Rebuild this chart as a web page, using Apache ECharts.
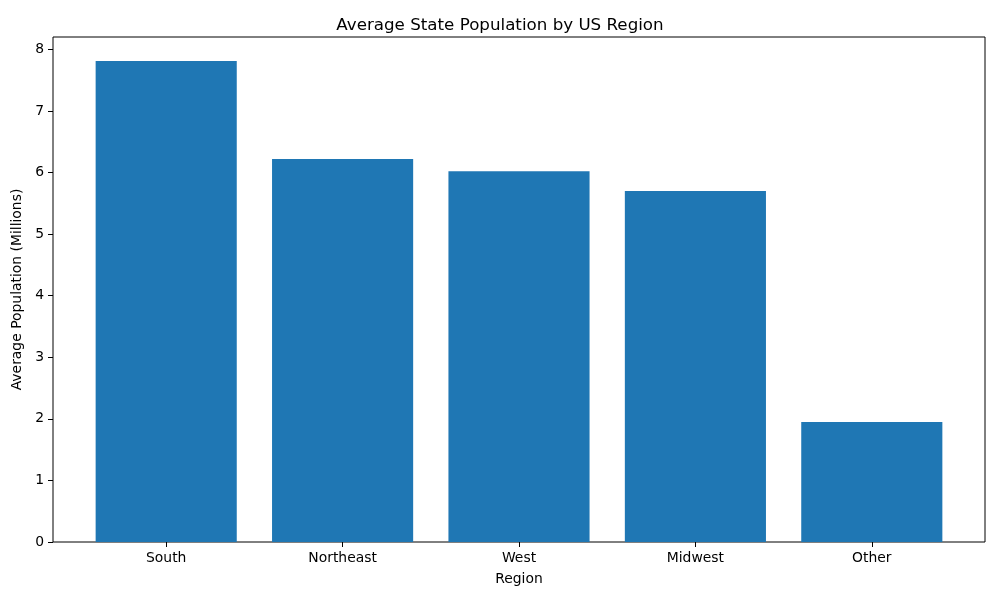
<!DOCTYPE html>
<html>
<head>
<meta charset="utf-8">
<script src="https://cdn.jsdelivr.net/npm/echarts@6/dist/echarts.min.js"></script>
<style>
    html, body { margin: 0; padding: 0; background: #fff; }
    #chart { width: 1000px; height: 600px; }
</style>
</head>
<body>
<div id="chart"></div>
<script>
let regions = ['South', 'Northeast', 'West', 'Midwest', 'Other'];
let avgPopulation = [7.81, 6.22, 6.02, 5.70, 1.95];
let yTicks = [0, 1, 2, 3, 4, 5, 6, 7, 8];

let font = 'DejaVu Sans';

let option = {
    animation: false,
    textStyle: { fontFamily: font },
    title: {
        text: 'Average State Population by US Region',
        left: 'center',
        top: 12,
        textStyle: {
            fontFamily: font,
            fontSize: 16.7,
            fontWeight: 'normal',
            color: '#000'
        }
    },
    grid: [
        // frame, same as the axes box
        { left: 53, right: 15, top: 37, bottom: 58, show: true, borderColor: '#000', borderWidth: 1, backgroundColor: 'transparent' },
        // bars, padded like matplotlib margins
        { left: 78, right: 40, top: 37, bottom: 58 }
    ],
    xAxis: [
        {
            gridIndex: 0,
            type: 'value',
            min: 0,
            max: 1,
            name: 'Region',
            nameLocation: 'middle',
            nameGap: 30,
            nameTextStyle: { fontFamily: font, fontSize: 13.9, color: '#000' },
            axisLine: { show: false },
            axisTick: { show: false },
            axisLabel: { show: false },
            splitLine: { show: false }
        },
        {
            gridIndex: 1,
            type: 'category',
            data: regions,
            axisLine: { show: false },
            axisTick: {
                show: true,
                alignWithLabel: true,
                length: 5,
                lineStyle: { color: '#000' }
            },
            axisLabel: {
                margin: 9,
                fontFamily: font,
                fontSize: 13.9,
                color: '#000'
            },
            splitLine: { show: false }
        }
    ],
    yAxis: [
        {
            gridIndex: 0,
            type: 'value',
            min: 0,
            max: 8.2,
            name: 'Average Population (Millions)',
            nameLocation: 'middle',
            nameGap: 28,
            nameTextStyle: { fontFamily: font, fontSize: 13.9, color: '#000' },
            axisLine: { show: false },
            axisTick: {
                show: true,
                length: 5,
                customValues: yTicks,
                lineStyle: { color: '#000' }
            },
            axisLabel: {
                margin: 9,
                customValues: yTicks,
                fontFamily: font,
                fontSize: 13.9,
                color: '#000'
            },
            splitLine: { show: false }
        },
        {
            gridIndex: 1,
            type: 'value',
            min: 0,
            max: 8.2,
            show: false
        }
    ],
    series: [
        {
            type: 'bar',
            xAxisIndex: 1,
            yAxisIndex: 1,
            data: avgPopulation,
            barWidth: '80%',
            itemStyle: { color: '#1f77b4' }
        }
    ]
};

let chart = echarts.init(document.getElementById('chart'));
chart.setOption(option);
</script>
</body>
</html>
